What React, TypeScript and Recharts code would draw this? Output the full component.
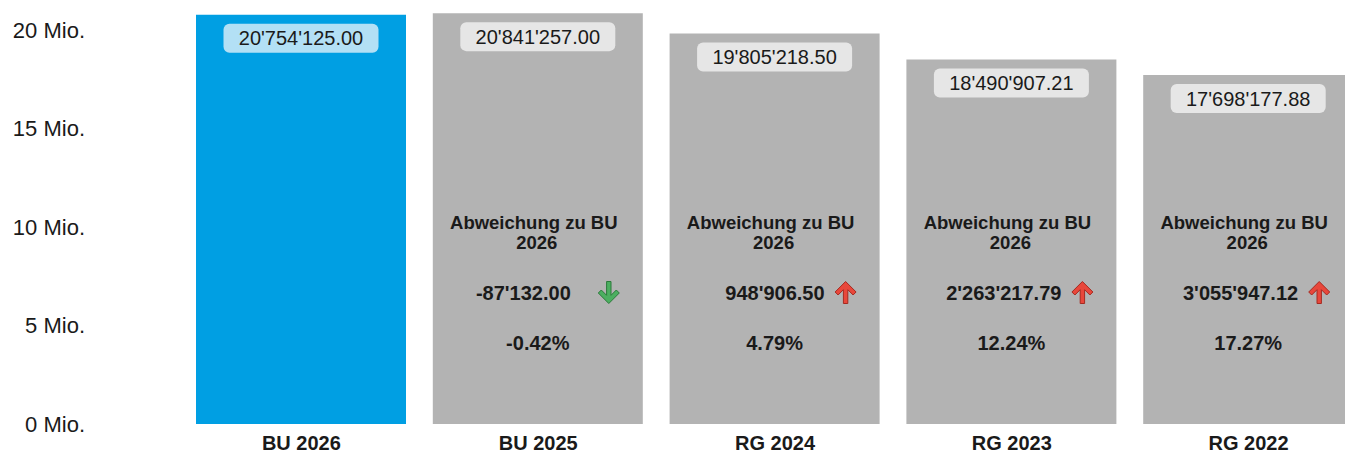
import { Bar, BarChart, Cell, LabelList, XAxis, YAxis } from 'recharts';

const categories = ['BU 2026', 'BU 2025', 'RG 2024', 'RG 2023', 'RG 2022'];
const totals = [20754125.0, 20841257.0, 19805218.5, 18490907.21, 17698177.88];
const deviations: (number | null)[] = [null, -87132.0, 948906.5, 2263217.79, 3055947.12];
const deviationPercents: (number | null)[] = [null, -0.42, 4.79, 12.24, 17.27];
const yTicks = [0, 5000000, 10000000, 15000000, 20000000];
const referenceName = 'BU 2026';

const FONT = '"Liberation Sans", Arial, sans-serif';
const INK = '#1a1a1a';
const BLUE = '#009fe3';
const GREY = '#b3b3b3';

const chartData = categories.map((name, i) => ({
  name,
  total: totals[i],
  deviation: deviations[i],
  percent: deviationPercents[i],
}));

// 20754125 -> 20'754'125.00
function fmt(n: number) {
  const [int, dec] = Math.abs(n).toFixed(2).split('.');
  const grouped = int.replace(/\B(?=(\d{3})+(?!\d))/g, "'");
  return `${n < 0 ? '-' : ''}${grouped}.${dec}`;
}

function Arrow({ cx, cy, up }: { cx: number; cy: number; up: boolean }) {
  const s = up ? 1 : -1;
  const pts = [
    [0, -11], [10.5, -0.5], [7.5, 2.5], [2.2, -2.8], [2.2, 11], [-2.2, 11], [-2.2, -2.8], [-7.5, 2.5], [-10.5, -0.5],
  ]
    .map(([px, py]) => `${cx + px},${cy + py * s}`)
    .join(' ');
  return (
    <polygon
      points={pts}
      fill={up ? '#e8473b' : '#4caf60'}
      stroke={up ? '#a52a20' : '#2c7a3b'}
      strokeWidth={1}
      strokeLinejoin="round"
    />
  );
}

function TotalLabel(props: any) {
  const { x, y, width, index } = props;
  const cx = x + width / 2;
  const w = 155;
  const h = 29;
  return (
    <g>
      <rect x={cx - w / 2} y={y + 9} width={w} height={h} rx={6} fill={index === 0 ? '#b3e0f5' : '#e6e6e6'} />
      <text
        x={cx}
        y={y + 9 + h / 2}
        textAnchor="middle"
        dominantBaseline="central"
        fontSize={20}
        fontFamily={FONT}
        fill={INK}
      >
        {fmt(totals[index])}
      </text>
    </g>
  );
}

function DeviationLabel(props: any) {
  const { x, y, width, height, index } = props;
  const dev = deviations[index];
  const pct = deviationPercents[index];
  if (dev == null || pct == null) return null;
  const cx = x + width / 2;
  const bottom = y + height;
  const up = dev >= 0;
  const common = { fontFamily: FONT, fontWeight: 700, fill: INK, dominantBaseline: 'central' as const };
  return (
    <g>
      <text x={cx - 4} y={bottom - 202} textAnchor="middle" fontSize={18.5} {...common}>
        Abweichung zu BU
      </text>
      <text x={cx - 1} y={bottom - 182} textAnchor="middle" fontSize={18.5} {...common}>
        {referenceName.replace('BU ', '')}
      </text>
      <text x={cx + (up ? 50 : 33)} y={bottom - 131} textAnchor="end" fontSize={20} {...common}>
        {fmt(dev)}
      </text>
      <Arrow cx={cx + 71} cy={bottom - 131.5} up={up} />
      <text x={cx} y={bottom - 81.5} textAnchor="middle" fontSize={20} {...common}>
        {`${pct.toFixed(2)}%`}
      </text>
    </g>
  );
}

export default function App() {
  return (
    <div style={{ position: 'fixed', top: 0, left: 0, width: 1345, height: 452, overflow: 'hidden', background: '#fff' }}>
      <BarChart width={1368} height={452} data={chartData} margin={{ top: 10, right: 1, bottom: 0, left: 0 }}>
        <XAxis
          dataKey="name"
          axisLine={false}
          tickLine={false}
          tickSize={0}
          tickMargin={12}
          height={28}
          interval={0}
          tick={{ fill: INK, fontSize: 20, fontWeight: 700, fontFamily: FONT }}
        />
        <YAxis
          width={183}
          domain={[0, 21000000]}
          ticks={yTicks}
          axisLine={false}
          tickLine={false}
          tickSize={0}
          tickMargin={98}
          tickFormatter={(v: number) => `${v / 1000000} Mio.`}
          tick={{ fill: INK, fontSize: 22, fontFamily: FONT }}
        />
        <Bar dataKey="total" barSize={210} isAnimationActive={false}>
          {chartData.map((d, i) => (
            <Cell key={d.name} fill={i === 0 ? BLUE : GREY} />
          ))}
          <LabelList dataKey="total" content={TotalLabel} />
          <LabelList dataKey="deviation" content={DeviationLabel} />
        </Bar>
      </BarChart>
    </div>
  );
}
